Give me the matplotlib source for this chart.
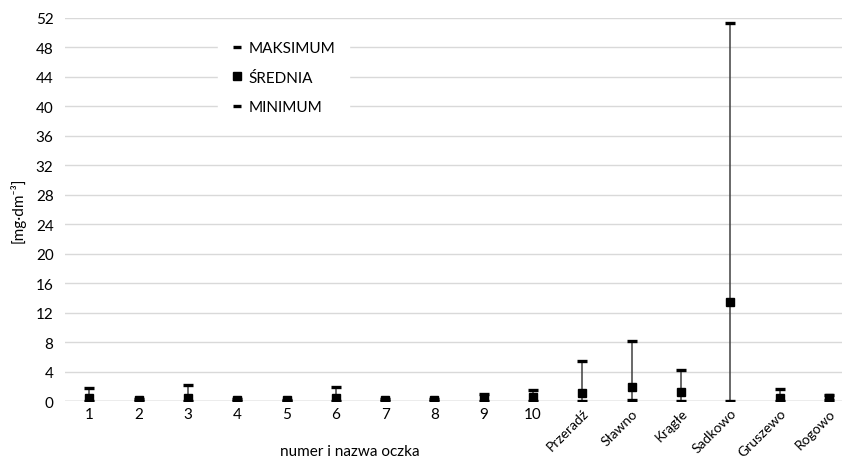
import matplotlib.pyplot as plt
import numpy as np

plt.rcParams['font.family'] = ['Lato', 'DejaVu Sans']

# dane
oczka = ['1', '2', '3', '4', '5', '6', '7', '8', '9', '10',
         'Przeradź', 'Sławno', 'Krągłe', 'Sadkowo', 'Gruszewo', 'Rogowo']
maksimum = [1.8, 0.25, 2.2, 0.25, 0.15, 1.9, 0.25, 0.25, 0.9, 1.5,
            5.5, 8.2, 4.2, 51.3, 1.6, 0.8]
srednia = [0.4, 0.15, 0.4, 0.15, 0.1, 0.4, 0.15, 0.15, 0.45, 0.5,
           1.05, 1.95, 1.2, 13.4, 0.4, 0.4]
minimum = [0.0, 0.0, 0.0, 0.0, 0.0, 0.0, 0.0, 0.0, 0.05, 0.0,
           0.05, 0.1, 0.05, 0.0, 0.0, 0.1]

fig = plt.figure(figsize=(8.42, 4.6), dpi=100)
ax = fig.add_axes([0.0768, 0.126, 0.937, 0.8327])

x = np.arange(1, len(oczka) + 1)
ax.vlines(x, minimum, maksimum, color='#404040', lw=1.1, zorder=3)
ax.plot(x, maksimum, ls='none', marker='_', ms=7, mew=2.4, color='black', zorder=4, label='MAKSIMUM')
ax.plot(x, srednia, ls='none', marker='s', ms=6, color='black', zorder=5, label='ŚREDNIA')
ax.plot(x, minimum, ls='none', marker='_', ms=7, mew=2.4, color='black', zorder=4, label='MINIMUM')

ax.set_xlim(0.5, len(oczka) + 0.5)
ax.set_ylim(0, 52)
ax.set_yticks(np.arange(0, 53, 4))
ax.grid(axis='y', color='#d9d9d9', lw=1)
ax.set_axisbelow(True)
for s in ax.spines.values():
    s.set_visible(False)
ax.axhline(0, color='#bfbfbf', lw=1, zorder=2)
ax.tick_params(length=0, labelsize=11, colors='#000000')
ax.tick_params(axis='y', pad=8)
ax.tick_params(axis='x', pad=4)

ax.set_xticks(x)
ax.set_xticklabels(oczka)
for i, lab in enumerate(ax.get_xticklabels()):
    if i >= 10:
        lab.set_rotation(45)
        lab.set_ha('right')
        lab.set_va('top')
        lab.set_rotation_mode('anchor')
        lab.set_fontsize(10)

ax.set_ylabel('[mg·dm⁻³]', fontsize=11)
ax.yaxis.set_label_coords(-0.05, 0.5)
fig.text(0.415, 0.017, 'numer i nazwa oczka', fontsize=11, ha='center', va='center')

leg = ax.legend(loc='upper left', bbox_to_anchor=(0.185, 0.995), frameon=True,
                fontsize=11, handlelength=0.6, handletextpad=0.5,
                labelspacing=1.0, borderpad=0.9, markerscale=0.9)
leg.get_frame().set_edgecolor('white')
leg.get_frame().set_facecolor('white')
leg.get_frame().set_alpha(1)

fig.savefig('out.png', dpi=100)
